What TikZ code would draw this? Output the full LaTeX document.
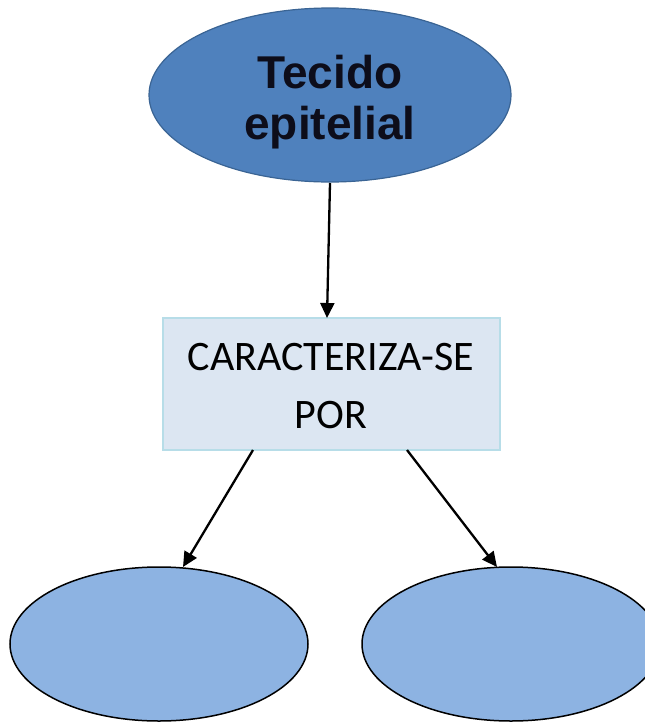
\documentclass[tikz,border=0pt]{standalone}
\usepackage{fontspec}
\setmainfont{Carlito}
\newfontfamily\headfont{Liberation Sans}
\usetikzlibrary{shapes.geometric,arrows.meta}
\definecolor{topfill}{HTML}{4F81BD}
\definecolor{topline}{HTML}{3A6494}
\definecolor{boxfill}{HTML}{DCE6F2}
\definecolor{boxline}{HTML}{B7DDE8}
\definecolor{lowfill}{HTML}{8DB3E2}
\definecolor{headtext}{HTML}{0D0D1A}
\tikzset{
  topell/.style={ellipse, draw=topline, line width=1.2pt, fill=topfill, minimum width=362pt, minimum height=174pt, inner sep=0pt},
  toptext/.style={align=center, inner sep=0pt, font=\headfont\bfseries\fontsize{46}{51}\selectfont, text=headtext},
  charbox/.style={rectangle, draw=boxline, line width=1.5pt, fill=boxfill, minimum width=337pt, minimum height=132pt, inner sep=0pt},
  boxtext/.style={align=center, inner sep=0pt, font=\fontsize{42}{58}\selectfont},
  lowell/.style={ellipse, draw=black, line width=1.5pt, fill=lowfill, minimum width=298pt, minimum height=154pt, inner sep=0pt},
  conn/.style={line width=2.3pt, -{Triangle[length=15pt,width=14pt]}}
}
\begin{document}
\begin{tikzpicture}[x=1pt,y=-1pt]
\useasboundingbox (0,0) rectangle (645,723);
\clip (0,0) rectangle (645,723);
\node[topell] (top) at (330,95) {};
\node[toptext, anchor=base] (toplbl) at (330,139) {Tecido\\epitelial};
\node[charbox] (box) at (331.5,384) {};
\node[boxtext, anchor=base] (boxlbl) at (331,428) {CARACTERIZA-SE\\POR};
\node[lowell] (left) at (159,644) {};
\node[lowell] (right) at (511,644) {};
\coordinate (a0) at (330,183);
\coordinate (a1) at (327,318);
\coordinate (b1) at (253,450);
\coordinate (b2) at (407,450);
\coordinate (t1) at (183,567);
\coordinate (t2) at (497,567);
\draw[conn] (a0) -- (a1);
\draw[conn] (b1) -- (t1);
\draw[conn] (b2) -- (t2);
\end{tikzpicture}
\end{document}
